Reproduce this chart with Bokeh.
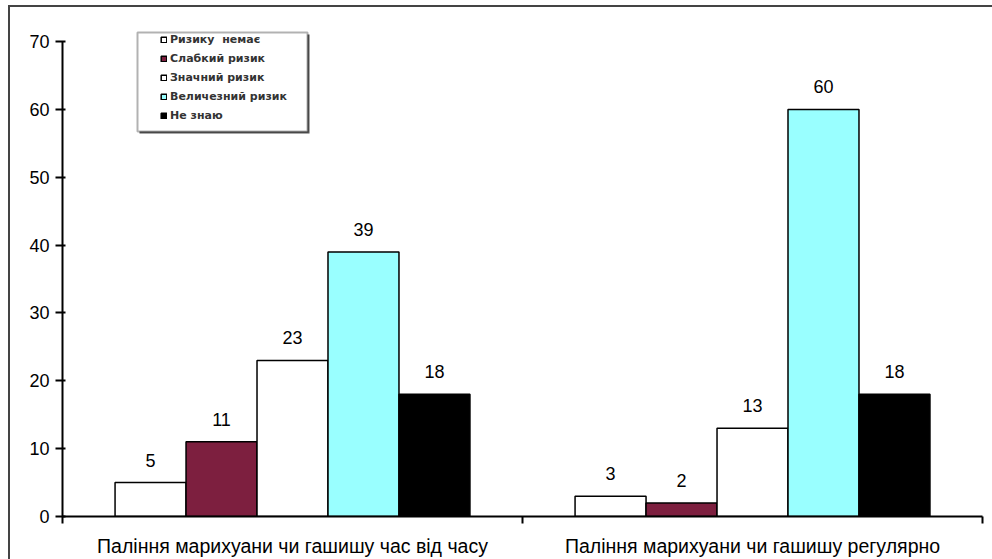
from bokeh.plotting import figure
from bokeh.models import (ColumnDataSource, FixedTicker, Legend, LegendItem,
                          BoxAnnotation, LabelSet, Range1d,
                          GlobalInlineStyleSheet)
from bokeh.core.properties import value
from bokeh.embed import file_html
from bokeh.resources import INLINE

# Categories and survey results (percent)
groups = ["Паління марихуани чи гашишу час від часу",
          "Паління марихуани чи гашишу регулярно"]
series = ["Ризику  немає", "Слабкий ризик", "Значний ризик",
          "Величезний ризик", "Не знаю"]
no_risk = [5, 3]
slight_risk = [11, 2]
significant_risk = [23, 13]
great_risk = [39, 60]
dont_know = [18, 18]
y_ticks = [0, 10, 20, 30, 40, 50, 60, 70]

values = [no_risk, slight_risk, significant_risk, great_risk, dont_know]
colors = ["#ffffff", "#7d1f3f", "#ffffff", "#99ffff", "#000000"]

NUM_FONT = "Liberation Sans"
CAT_FONT = "Liberation Sans"
LEG_FONT = "DejaVu Sans"
bar_w = 0.1543

# the frame runs to the right edge; the x axis line itself stops at 2
p = figure(width=992, height=559, output_backend="svg", toolbar_location=None,
           x_range=Range1d(0, 2.0217), y_range=Range1d(0, 73.1),
           min_border_left=62, min_border_right=0, min_border_top=20,
           min_border_bottom=43)
p.xgrid.visible = False
p.ygrid.visible = False
p.outline_line_color = None
p.background_fill_color = "white"
p.border_fill_alpha = 0

# outer chart frame: left and top edges painted behind the transparent canvas
p.styles = {
    "background-color": "white",
    "background-image": ("linear-gradient(#444,#444), "
                         "linear-gradient(#444,#444)"),
    "background-size": "2px 100%, 100% 2px",
    "background-position": "8px 5px, 8px 5px",
    "background-repeat": "no-repeat",
    "vertical-align": "top",
}
p.stylesheets = [GlobalInlineStyleSheet(
    css="html, body { margin: 0; overflow: hidden; }")]

# legend panel (drawn first so the legend sits on top of it)
p.add_layout(BoxAnnotation(left=139, right=309, top=34, bottom=133,
                           left_units="canvas", right_units="canvas",
                           top_units="canvas", bottom_units="canvas",
                           fill_color="#555555", fill_alpha=1,
                           line_color=None))
p.add_layout(BoxAnnotation(left=137, right=307, top=32, bottom=131,
                           left_units="canvas", right_units="canvas",
                           top_units="canvas", bottom_units="canvas",
                           fill_color="white", fill_alpha=1,
                           line_color="black", line_width=2))

renderers = []
for j, (name, vals, col) in enumerate(zip(series, values, colors)):
    xs = [g + 0.5 + (j - 2) * bar_w for g in range(len(groups))]
    src = ColumnDataSource(dict(x=xs, top=vals, lab=[str(v) for v in vals]))
    r = p.vbar(x="x", top="top", width=bar_w, bottom=0, source=src,
               fill_color=col, line_color="black", line_width=1.5)
    renderers.append(r)
    p.add_layout(LabelSet(x="x", y="top", text="lab", source=src,
                          text_align="center", text_baseline="bottom",
                          y_offset=16, text_font=value(NUM_FONT),
                          text_font_size="18px", text_color="black"))

# axes
p.xaxis.ticker = FixedTicker(ticks=[0.5, 1.5], minor_ticks=[0, 1, 2])
p.xaxis.major_label_overrides = {0.5: groups[0], 1.5: groups[1]}
p.xaxis.bounds = (0, 2)
p.xaxis.major_tick_out = 0
p.xaxis.major_tick_in = 0
p.xaxis.minor_tick_out = 7
p.xaxis.minor_tick_in = 0
p.xaxis.minor_tick_line_width = 2
p.xaxis.major_label_standoff = 11
p.xaxis.axis_line_width = 2
p.xaxis.major_label_text_font = CAT_FONT
p.xaxis.major_label_text_font_size = "19.5px"
p.xaxis.major_label_text_color = "black"

p.yaxis.ticker = FixedTicker(ticks=y_ticks, minor_ticks=[])
p.yaxis.bounds = (0, 70)
p.yaxis.major_tick_out = 7
p.yaxis.major_tick_in = 3
p.yaxis.major_tick_line_width = 2
p.yaxis.axis_line_width = 2
p.yaxis.major_label_standoff = 6
p.yaxis.major_label_text_font = NUM_FONT
p.yaxis.major_label_text_font_size = "18px"
p.yaxis.major_label_text_color = "black"

legend = Legend(items=[LegendItem(label=s, renderers=[r])
                       for s, r in zip(series, renderers)],
                location=(94, 390), orientation="vertical",
                label_text_font=LEG_FONT, label_text_font_size="11px",
                label_text_font_style="bold", label_text_color="#333333",
                glyph_width=7, glyph_height=7, label_height=13,
                label_standoff=3, spacing=6, padding=4, margin=0,
                border_line_alpha=0, background_fill_alpha=0)
p.add_layout(legend, "center")

open("out.html", "w").write(file_html(p, INLINE))
